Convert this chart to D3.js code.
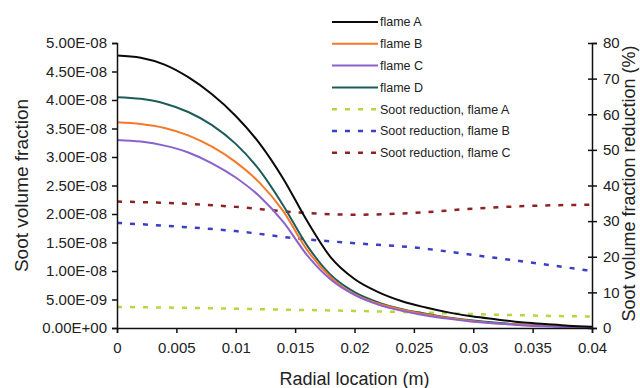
<!DOCTYPE html>
<meta charset="utf-8">
<style>
    body { margin: 0; background: #fff; }
    text { font-family: "Liberation Sans", Arial, sans-serif; fill: #222; }
    .axis path, .axis line { stroke: #111; stroke-width: 1.5; }
    .axis text { font-size: 15px; }
</style>
<body>
<svg width="640" height="388"></svg>
<script src="https://d3js.org/d3.v7.min.js"></script>
<script>
    // radial location (m)
    var radius = [0, 0.002, 0.004, 0.006, 0.008, 0.010, 0.012, 0.014, 0.016, 0.018, 0.020,
        0.022, 0.024, 0.026, 0.028, 0.030, 0.032, 0.034, 0.036, 0.038, 0.040];
    // soot volume fraction, x 1e-8
    var flameA = [4.78, 4.74, 4.62, 4.40, 4.10, 3.72, 3.24, 2.62, 1.88, 1.24, 0.86,
        0.63, 0.47, 0.36, 0.27, 0.20, 0.15, 0.10, 0.07, 0.04, 0.02];
    var flameB = [3.61, 3.58, 3.51, 3.38, 3.18, 2.91, 2.55, 2.05, 1.37, 0.89, 0.59,
        0.43, 0.32, 0.24, 0.17, 0.12, 0.08, 0.06, 0.04, 0.02, 0.01];
    var flameC = [3.30, 3.27, 3.20, 3.08, 2.89, 2.64, 2.31, 1.86, 1.28, 0.85, 0.58,
        0.41, 0.30, 0.22, 0.16, 0.11, 0.08, 0.05, 0.03, 0.02, 0.01];
    var flameD = [4.05, 4.02, 3.94, 3.79, 3.56, 3.23, 2.77, 2.15, 1.45, 0.93, 0.63,
        0.45, 0.33, 0.25, 0.18, 0.13, 0.09, 0.06, 0.04, 0.02, 0.01];

    // soot reduction (%), right axis
    var redRadius = [0, 0.005, 0.010, 0.015, 0.020, 0.025, 0.030, 0.035, 0.040];
    var reductionA = [5.9, 5.7, 5.4, 5.1, 4.8, 4.4, 3.9, 3.5, 3.2];
    var reductionB = [29.5, 28.5, 27.2, 25.2, 23.8, 22.6, 20.5, 18.3, 16.0];
    var reductionC = [35.5, 35.0, 34.0, 32.5, 31.8, 32.3, 33.5, 34.3, 34.6];

    var xTicks = [0, 0.005, 0.01, 0.015, 0.02, 0.025, 0.03, 0.035, 0.04];
    var yTicks = [0, 5e-9, 1e-8, 1.5e-8, 2e-8, 2.5e-8, 3e-8, 3.5e-8, 4e-8, 4.5e-8, 5e-8];
    var y2Ticks = [0, 10, 20, 30, 40, 50, 60, 70, 80];

    var svg = d3.select("svg"),
        margin = { top: 43, right: 48, bottom: 60, left: 117 },
        width = +svg.attr("width") - margin.left - margin.right,
        height = +svg.attr("height") - margin.top - margin.bottom;

    var x = d3.scaleLinear().domain([0, 0.04]).range([0, width]),
        y = d3.scaleLinear().domain([0, 5e-8]).range([height, 0]),
        y2 = d3.scaleLinear().domain([0, 80]).range([height, 0]);

    var g = svg.append("g")
        .attr("transform", "translate(" + margin.left + "," + margin.top + ")");

    var series = [
        { name: "flame A", vals: flameA, color: "#0a0a0a", dash: null },
        { name: "flame B", vals: flameB, color: "#f5792a", dash: null },
        { name: "flame C", vals: flameC, color: "#8a62cf", dash: null },
        { name: "flame D", vals: flameD, color: "#1d5c5a", dash: null }
    ];
    var reductions = [
        { name: "Soot reduction, flame A", vals: reductionA, color: "#b9d444", dash: "5,8" },
        { name: "Soot reduction, flame B", vals: reductionB, color: "#3c3fc4", dash: "5,8" },
        { name: "Soot reduction, flame C", vals: reductionC, color: "#8e2222", dash: "5,8" }
    ];

    var line = d3.line()
        .x(function (d) { return x(d[0]); })
        .y(function (d) { return y(d[1] * 1e-8); })
        .curve(d3.curveMonotoneX);
    var line2 = d3.line()
        .x(function (d) { return x(d[0]); })
        .y(function (d) { return y2(d[1]); })
        .curve(d3.curveMonotoneX);

    reductions.forEach(function (s) {
        g.append("path")
            .datum(redRadius.map(function (r, i) { return [r, s.vals[i]]; }))
            .attr("fill", "none")
            .attr("stroke", s.color)
            .attr("stroke-width", 2.5)
            .attr("stroke-dasharray", s.dash)
            .attr("d", line2);
    });

    // draw D, B, C first so flame A sits on top like the original
    [series[3], series[1], series[2], series[0]].forEach(function (s) {
        g.append("path")
            .datum(radius.map(function (r, i) { return [r, s.vals[i]]; }))
            .attr("fill", "none")
            .attr("stroke", s.color)
            .attr("stroke-width", 2)
            .attr("d", line);
    });

    // axes
    g.append("g")
        .attr("class", "axis")
        .attr("transform", "translate(0," + height + ")")
        .call(d3.axisBottom(x).tickValues(xTicks).tickSizeOuter(0).tickSize(5).tickPadding(9)
            .tickFormat(function (d) { return d3.format("")(+d.toFixed(3)); }));

    g.append("g")
        .attr("class", "axis")
        .call(d3.axisLeft(y).tickValues(yTicks).tickSizeOuter(0).tickSize(5).tickPadding(5)
            .tickFormat(function (d) {
                var s = d.toExponential(2).toUpperCase();
                return s.replace(/E([+-])(\d)$/, "E$10$2");
            }));

    var right = g.append("g")
        .attr("class", "axis")
        .attr("transform", "translate(" + width + ",0)")
        .call(d3.axisRight(y2).tickValues(y2Ticks).tickSizeOuter(0).tickSize(5).tickPadding(6));
    right.selectAll(".tick line").attr("x1", -4);

    // axis titles
    svg.append("text")
        .attr("transform", "rotate(-90)")
        .attr("x", -(margin.top + height / 2))
        .attr("y", 28)
        .style("text-anchor", "middle")
        .style("font-size", "19px")
        .text("Soot volume fraction");

    svg.append("text")
        .attr("transform", "rotate(-90)")
        .attr("x", -(margin.top + height / 2) + 2)
        .attr("y", 635)
        .style("text-anchor", "middle")
        .style("font-size", "18px")
        .text("Soot volume fraction reduction (%)");

    svg.append("text")
        .attr("x", margin.left + width / 2)
        .attr("y", 385)
        .style("text-anchor", "middle")
        .style("font-size", "18px")
        .text("Radial location (m)");

    // legend
    var legend = svg.append("g").attr("transform", "translate(332,22)");
    series.concat(reductions).forEach(function (s, i) {
        var row = legend.append("g").attr("transform", "translate(0," + (i * 21.8) + ")");
        row.append("line")
            .attr("x1", 0).attr("x2", 46)
            .attr("stroke", s.color)
            .attr("stroke-width", s.dash ? 2.5 : 2)
            .attr("stroke-dasharray", s.dash);
        row.append("text")
            .attr("x", 48)
            .attr("dy", "0.35em")
            .style("font-size", "12.5px")
            .text(s.name);
    });
</script>
</body>
